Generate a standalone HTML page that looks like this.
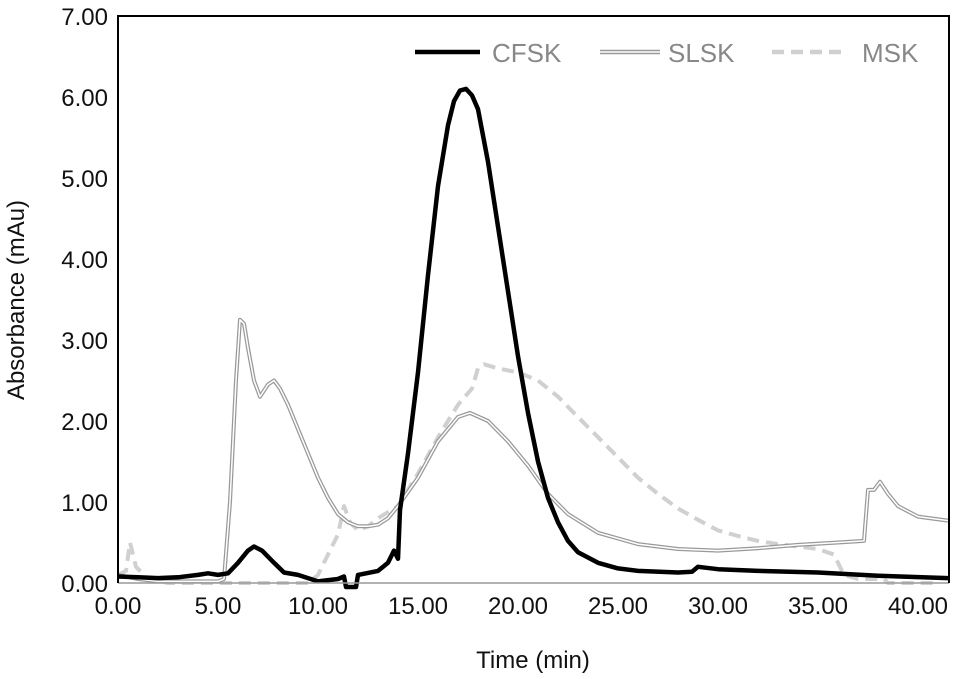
<!DOCTYPE html>
<html><head><meta charset="utf-8"><style>
html,body{margin:0;padding:0;background:#fff}
svg{display:block;font-family:"Liberation Sans",Arial,sans-serif}
</style></head><body>
<svg id="chart" width="956" height="679" viewBox="0 0 956 679">
<g id="grid"></g>
<g id="series"></g>
<g id="axes"></g>
<g id="legend">
  <line x1="415" y1="52" x2="480" y2="52" stroke="#000" stroke-width="4.5"/>
  <text x="492" y="62" font-size="26" fill="#888">CFSK</text>
  <line x1="600" y1="52" x2="660" y2="52" stroke="#999" stroke-width="4.5"/>
  <line x1="600" y1="52" x2="660" y2="52" stroke="#fff" stroke-width="1.6"/>
  <text x="668" y="62" font-size="26" fill="#888">SLSK</text>
  <line x1="772" y1="52" x2="842" y2="52" stroke="#d0d0d0" stroke-width="4.5" stroke-dasharray="12,7"/>
  <text x="862" y="62" font-size="26" fill="#888">MSK</text>
</g>
<text x="533" y="668" font-size="24" text-anchor="middle" fill="#111">Time (min)</text>
<text transform="translate(24,300) rotate(-90)" font-size="24" text-anchor="middle" fill="#111">Absorbance (mAu)</text>
</svg>
<script>
const xTicks=[0,5,10,15,20,25,30,35,40];
const yTicks=[0,1,2,3,4,5,6,7];
const cfskT=[0,1,2,3,4,4.5,5,5.5,6,6.5,6.8,7.2,7.8,8.3,9,10,11,11.3,11.4,11.9,12,13,13.5,13.8,14,14.1,14.5,15,15.5,16,16.5,16.8,17.1,17.4,17.7,18,18.5,19,19.5,20,20.5,21,21.5,22,22.5,23,24,25,26,28,28.7,29,30,32,35,38,41.5];
const cfskV=[0.08,0.07,0.06,0.07,0.1,0.12,0.1,0.12,0.25,0.4,0.45,0.4,0.25,0.13,0.1,0.02,0.05,0.08,-0.05,-0.05,0.1,0.15,0.25,0.4,0.3,0.9,1.6,2.6,3.8,4.9,5.65,5.95,6.08,6.1,6.02,5.85,5.2,4.4,3.6,2.8,2.1,1.5,1.05,0.75,0.52,0.38,0.25,0.18,0.15,0.13,0.14,0.2,0.17,0.15,0.13,0.09,0.06];
const slskT=[0,1,2,5,5.3,5.6,5.9,6.1,6.3,6.5,6.8,7.1,7.5,7.8,8.1,8.5,9,9.5,10,10.5,11,11.5,12,12.5,13,13.5,14,15,16,17,17.6,18.5,19.5,20.5,21.5,22.5,24,26,28,30,32,34,36,37.3,37.5,37.8,38.1,38.5,39,40,41.5];
const slskV=[0.1,0.05,0.02,0.02,0.05,1.0,2.5,3.25,3.2,2.9,2.5,2.3,2.45,2.5,2.4,2.2,1.9,1.6,1.3,1.05,0.85,0.75,0.7,0.7,0.72,0.8,0.95,1.3,1.75,2.05,2.1,2.0,1.75,1.45,1.1,0.85,0.62,0.48,0.42,0.4,0.43,0.47,0.5,0.52,1.15,1.15,1.25,1.1,0.95,0.82,0.77];
const mskT=[0,0.4,0.6,0.9,1.5,2.5,9.5,10,10.5,11,11.3,11.6,12,12.5,13,14,15,16,17,17.7,18,18.3,19,20,21,22,23,24,25,26,27,28,29,30,31,32,33,34,35,35.8,36.3,37,38.3,38.5,41];
const mskV=[0.1,0.15,0.5,0.2,0.05,0,0,0.1,0.35,0.6,0.95,0.75,0.65,0.7,0.8,0.95,1.35,1.8,2.2,2.4,2.65,2.7,2.65,2.6,2.5,2.3,2.05,1.8,1.55,1.3,1.1,0.92,0.78,0.65,0.58,0.52,0.48,0.45,0.42,0.35,0.1,0.05,0.05,0,0];

const L=118,R=949,T=16,B=583;
const xs=v=>L+v*20;
const ys=v=>B-v*81;
const NS="http://www.w3.org/2000/svg";
function mk(tag,attrs,parent){const e=document.createElementNS(NS,tag);for(const k in attrs)e.setAttribute(k,attrs[k]);parent.appendChild(e);return e;}
const axes=document.getElementById('axes');
const series=document.getElementById('series');

let a=mk('line',{x1:L,y1:B,x2:R,y2:B,stroke:'#999','stroke-width':1.5},axes);


let f=mk('path',{d:`M${L},${B}V${T}H${R}V${B}`,fill:'none',stroke:'#000','stroke-width':2},axes);


xTicks.forEach(t=>{
  const e=mk('text',{x:xs(t),y:614,'font-size':24,'text-anchor':'middle',fill:'#111'},axes);
  e.textContent=t.toFixed(2);
  
  
});
yTicks.forEach(t=>{
  const e=mk('text',{x:108,y:ys(t)+9,'font-size':24,'text-anchor':'end',fill:'#111'},axes);
  e.textContent=t.toFixed(2);
  
  
});
function pathD(T_,V_){return T_.map((t,i)=>(i?'L':'M')+xs(t).toFixed(1)+','+ys(V_[i]).toFixed(1)).join('');}
let m=mk('path',{d:pathD(mskT,mskV),fill:'none',stroke:'#d0d0d0','stroke-width':4,'stroke-dasharray':'12,7','stroke-linejoin':'round'},series);


let s1=mk('path',{d:pathD(slskT,slskV),fill:'none',stroke:'#999','stroke-width':4,'stroke-linejoin':'round'},series);


let s2=mk('path',{d:pathD(slskT,slskV),fill:'none',stroke:'#fff','stroke-width':1.5,'stroke-linejoin':'round'},series);


let c=mk('path',{d:pathD(cfskT,cfskV),fill:'none',stroke:'#000','stroke-width':4.5,'stroke-linejoin':'round'},series);


</script>
</body></html>
